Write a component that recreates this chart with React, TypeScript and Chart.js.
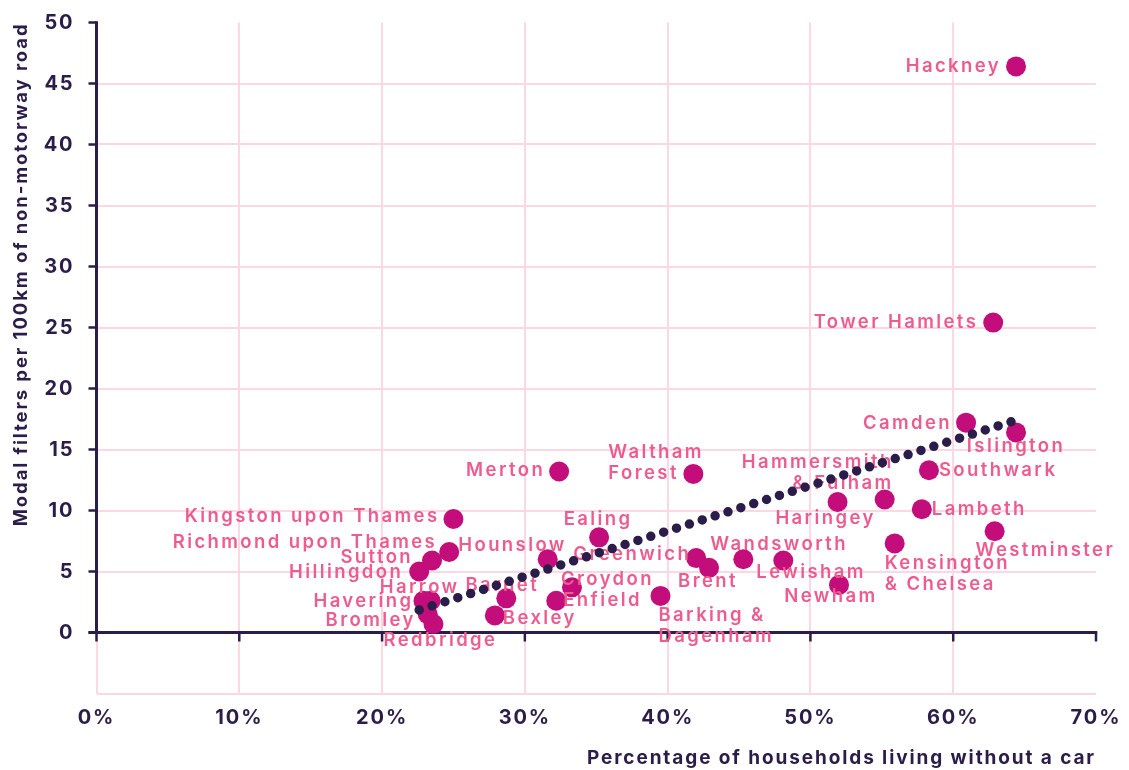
import React, { useEffect, useRef } from "react";
import { Chart, registerables } from "chart.js";

Chart.register(...registerables);

// ---- data ----
const boroughs = [
  "Hackney", "Tower Hamlets", "Camden", "Islington", "Southwark", "Lambeth",
  "Westminster", "Kensington & Chelsea", "Hammersmith & Fulham", "Haringey",
  "Newham", "Lewisham", "Wandsworth", "Brent", "Greenwich", "Barking & Dagenham",
  "Waltham Forest", "Merton", "Ealing", "Hounslow", "Croydon", "Enfield",
  "Bexley", "Barnet", "Harrow", "Havering", "Bromley", "Redbridge",
  "Hillingdon", "Sutton", "Richmond upon Thames", "Kingston upon Thames",
];
const noCarPct = [
  64.4, 62.8, 60.9, 64.4, 58.3, 57.8,
  62.9, 55.9, 55.2, 51.9,
  52.0, 48.1, 45.3, 42.9, 42.0, 39.5,
  41.8, 32.4, 35.2, 31.6, 33.3, 32.2,
  27.9, 28.7, 23.4, 22.9, 23.2, 23.6,
  22.6, 23.5, 24.7, 25.0,
];
const filtersPer100km = [
  46.4, 25.4, 17.2, 16.4, 13.3, 10.1,
  8.3, 7.3, 10.9, 10.7,
  3.9, 5.9, 6.0, 5.3, 6.1, 3.0,
  13.0, 13.2, 7.8, 6.0, 3.7, 2.6,
  1.4, 2.8, 2.6, 2.6, 1.5, 0.7,
  5.0, 5.9, 6.6, 9.3,
];
const trendX = [22.6, 64.4];
const trendY = [1.85, 17.4];
const xTicks = [0, 10, 20, 30, 40, 50, 60, 70];
const yTicks = [0, 5, 10, 15, 20, 25, 30, 35, 40, 45, 50];

const xTitle = "Percentage of households living without a car";
const yTitle = "Modal filters per 100km of non-motorway road";

// ---- label styling (placement relative to each dot) ----
const labelLines: Record<string, string[]> = {
  "Kensington & Chelsea": ["Kensington", "& Chelsea"],
  "Hammersmith & Fulham": ["Hammersmith", "& Fulham"],
  "Barking & Dagenham": ["Barking &", "Dagenham"],
  "Waltham Forest": ["Waltham", "Forest"],
};
type Place = [CanvasTextAlign, number, number];
const labelPlace: Record<string, Place> = {
  "Hackney": ["right", -15, 0],
  "Tower Hamlets": ["right", -15, 0],
  "Camden": ["right", -14, 1],
  "Islington": ["center", 0, 14],
  "Southwark": ["left", 10, 0],
  "Lambeth": ["left", 10, 0],
  "Westminster": ["left", -19, 19],
  "Kensington & Chelsea": ["left", -10, 20],
  "Hammersmith & Fulham": ["right", 9, -37],
  "Haringey": ["center", -12, 16],
  "Newham": ["center", -8, 12],
  "Lewisham": ["left", -27, 12],
  "Wandsworth": ["left", -33, -15],
  "Brent": ["center", -1, 14],
  "Greenwich": ["right", -5, -4],
  "Barking & Dagenham": ["left", -2, 20],
  "Waltham Forest": ["left", -85, -21],
  "Merton": ["right", -14, -1],
  "Ealing": ["center", -1, -18],
  "Hounslow": ["right", 19, -14],
  "Croydon": ["left", -11, -8],
  "Enfield": ["left", 7, 0],
  "Bexley": ["left", 8, 3],
  "Barnet": ["center", -4, -13],
  "Harrow": ["center", -11, -13],
  "Havering": ["right", -10, 1],
  "Bromley": ["right", -12, 6],
  "Redbridge": ["center", 7, 16],
  "Hillingdon": ["right", -16, 1],
  "Sutton": ["right", -19, -3],
  "Richmond upon Thames": ["right", -12, -10],
  "Kingston upon Thames": ["right", -14, -3],
};

const DARK = "#2b1d4a";
const DOT = "#c20d7a";
const LABEL = "#ee5b8d";
const GRID = "#fcd8e3";
const FONT = "Inter";

const spacingPlugin = {
  id: "spacing",
  beforeDraw(chart: any) {
    chart.ctx.letterSpacing = "1.9px";
  },
};

const labelsPlugin = {
  id: "boroughLabels",
  afterDatasetDraw(chart: any, args: any) {
    if (args.index !== 1) return;
    const ctx = chart.ctx;
    const meta = chart.getDatasetMeta(1);
    ctx.save();
    ctx.font = `600 18.5px ${FONT}`;
    ctx.letterSpacing = "2.4px";
    ctx.fillStyle = LABEL;
    ctx.textBaseline = "middle";
    boroughs.forEach((name, i) => {
      const pt = meta.data[i];
      const [align, dx, dy] = labelPlace[name] || ["left", 12, 0];
      const lines = labelLines[name] || [name];
      ctx.textAlign = align;
      lines.forEach((ln, k) => {
        ctx.fillText(ln, pt.x + dx, pt.y + dy + k * 21);
      });
    });
    ctx.restore();
  },
};

const axesPlugin = {
  id: "darkAxes",
  beforeDatasetsDraw(chart: any) {
    const ctx = chart.ctx;
    const xs = chart.scales.x;
    const ys = chart.scales.y;
    const x0 = xs.getPixelForValue(0);
    const x1 = xs.getPixelForValue(70);
    const y0 = ys.getPixelForValue(0);
    const yTop = ys.getPixelForValue(50);
    ctx.save();
    ctx.strokeStyle = DARK;
    ctx.lineWidth = 3;
    ctx.lineCap = "butt";
    ctx.beginPath();
    ctx.moveTo(x0, yTop - 1.25);
    ctx.lineTo(x0, y0);
    ctx.moveTo(x0 - 8, y0);
    ctx.lineTo(x1 + 1.25, y0);
    ctx.stroke();
    ctx.lineWidth = 2.5;
    ctx.beginPath();
    yTicks.forEach((v) => {
      const y = ys.getPixelForValue(v);
      ctx.moveTo(x0 - 8, y);
      ctx.lineTo(x0, y);
    });
    xTicks.forEach((v) => {
      const x = xs.getPixelForValue(v);
      ctx.moveTo(x, y0);
      ctx.lineTo(x, y0 + 9);
    });
    ctx.stroke();
    ctx.restore();
  },
};

export default function App() {
  const ref = useRef<HTMLCanvasElement | null>(null);
  useEffect(() => {
    if (!ref.current) return;
    Chart.defaults.font.family = FONT;
    const chart = new Chart(ref.current, {
      type: "scatter",
      data: {
        datasets: [
          {
            label: "Trend",
            data: trendX.map((x, i) => ({ x, y: trendY[i] })),
            showLine: true,
            borderColor: DARK,
            borderWidth: 9.5,
            borderDash: [0, 13.5],
            borderCapStyle: "round",
            pointRadius: 0,
            fill: false,
          } as any,
          {
            label: "Boroughs",
            data: noCarPct.map((x, i) => ({ x, y: filtersPer100km[i] })),
            backgroundColor: DOT,
            borderColor: DOT,
            borderWidth: 0,
            pointRadius: 10,
          },
        ],
      },
      options: {
        animation: false,
        responsive: false,
        devicePixelRatio: 1,
        layout: { padding: { top: 0, right: 33, bottom: 0, left: 0 } },
        plugins: { legend: { display: false }, tooltip: { enabled: false } },
        scales: {
          x: {
            type: "linear",
            min: 0,
            max: 70,
            afterFit: (s: any) => {
              s.height = 76.5;
              s.paddingLeft = 0;
              s.paddingRight = 0;
            },
            afterBuildTicks: (s: any) => { s.ticks = xTicks.map((v) => ({ value: v })); },
            border: { display: false },
            grid: {
              drawTicks: false,
              lineWidth: 2,
              color: (c: any) => (c.tick && c.tick.value === 70 ? "rgba(0,0,0,0)" : GRID),
            },
            ticks: {
              padding: 12.5,
              color: DARK,
              font: { size: 20, weight: "700" },
              callback: (v: any) => `${v}%`,
            },
            title: {
              display: true,
              text: xTitle,
              align: "end",
              color: DARK,
              font: { size: 19, weight: "700" },
              padding: { top: 4, bottom: 0 },
            },
          },
          y: {
            type: "linear",
            min: -5,
            max: 50,
            afterFit: (s: any) => {
              s.width = 96.5;
              s.paddingTop = 22.5;
              s.paddingBottom = 0;
            },
            afterBuildTicks: (s: any) => {
              s.ticks = [-5, ...yTicks].map((v) => ({ value: v }));
            },
            border: { display: false },
            grid: {
              drawTicks: false,
              lineWidth: 2,
              color: (c: any) => (c.tick && c.tick.value === 50 ? "rgba(0,0,0,0)" : GRID),
            },
            ticks: {
              padding: 22,
              color: DARK,
              font: { size: 20, weight: "700" },
              callback: (v: any) => (v < 0 ? "" : `${v}`),
            },
            title: {
              display: true,
              text: yTitle,
              align: "end",
              color: DARK,
              font: { size: 18.5, weight: "700" },
              padding: { top: 10, bottom: 0 },
            },
          },
        },
      },
      plugins: [spacingPlugin, axesPlugin, labelsPlugin],
    });
    return () => chart.destroy();
  }, []);
  return (
    <div style={{ position: "absolute", left: 0, top: 0, width: 1129, height: 770, background: "#fff" }}>
      <canvas ref={ref} width={1129} height={770} style={{ display: "block" }} />
    </div>
  );
}
